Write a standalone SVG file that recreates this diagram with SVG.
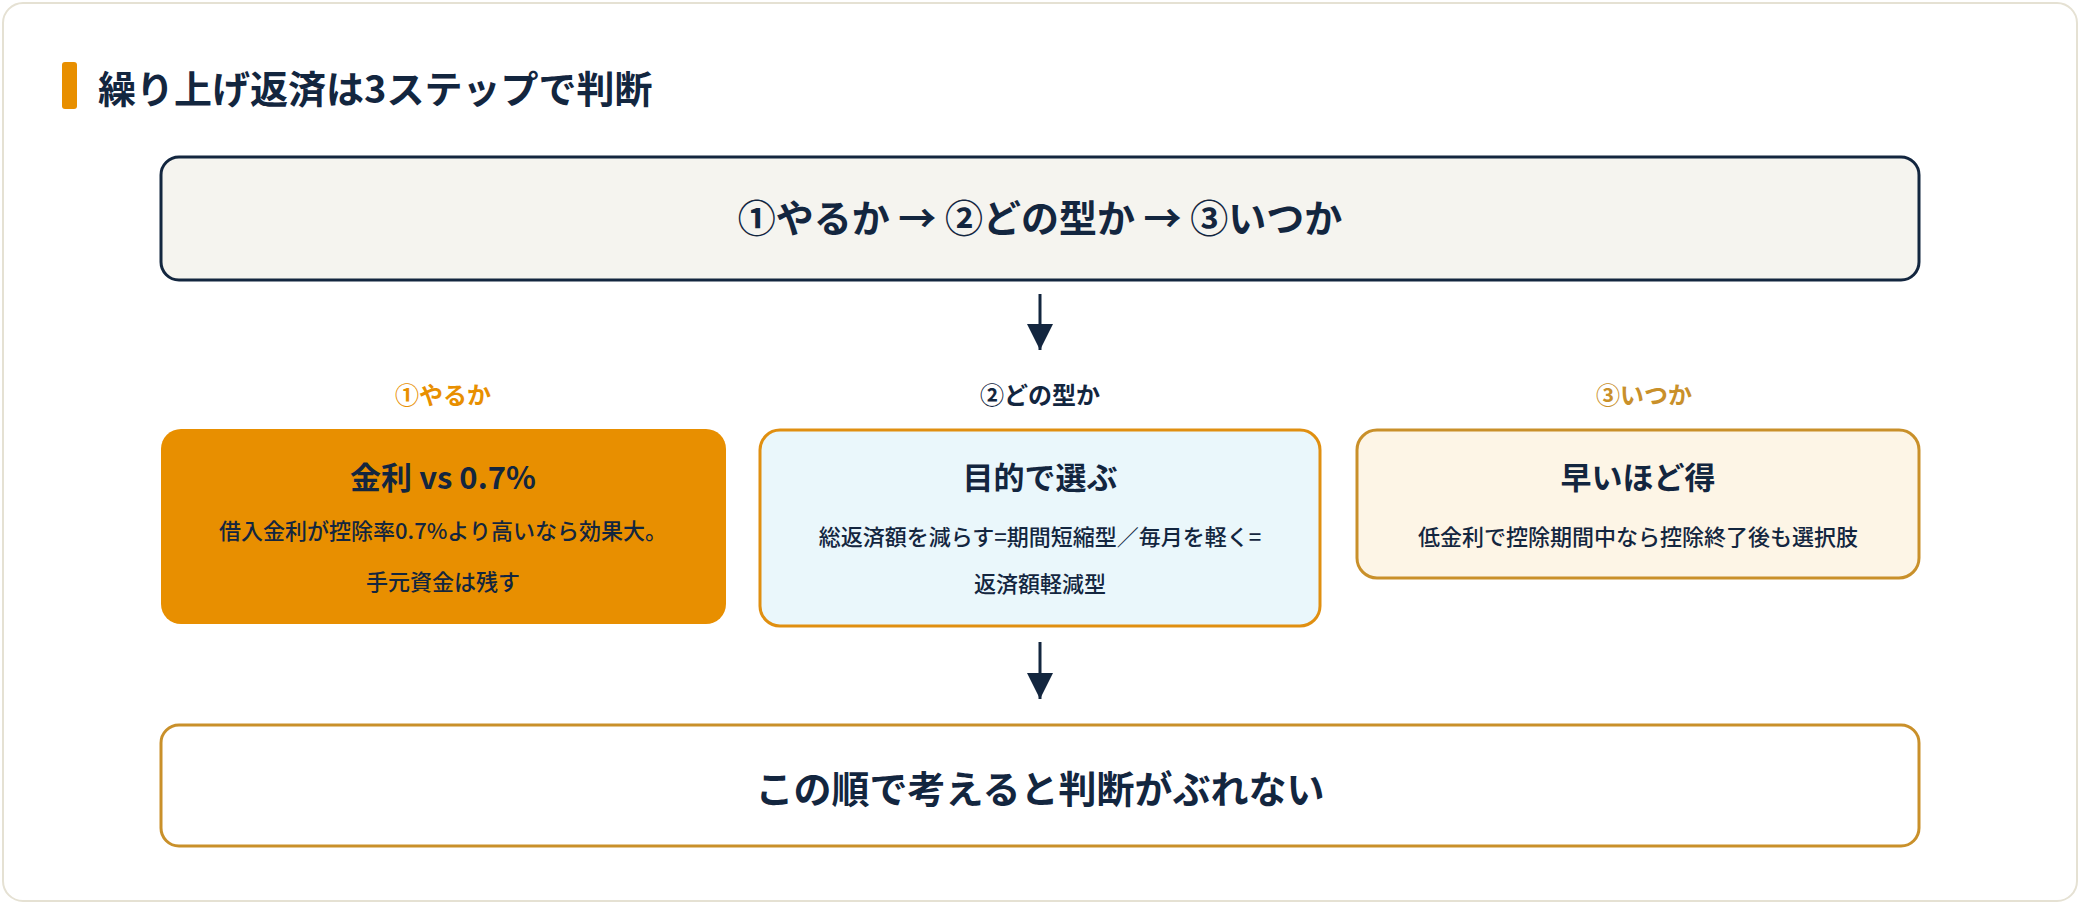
<svg xmlns="http://www.w3.org/2000/svg" width="2080" height="904" viewBox="0 0 2080 904">
<defs>
<style>
text{font-family:"Noto Sans CJK JP","Noto Sans",sans-serif;font-weight:700;fill:#13263f;text-anchor:middle}
.big{font-size:38px}
.lab{font-size:24px}
.ttl{font-size:31px}
.body{font-size:22px;font-weight:500}
.conn{stroke:#13263f;stroke-width:3;fill:none}
</style>
<marker id="ah" viewBox="0 0 10 10" refX="9" refY="5" markerWidth="10" markerHeight="10" markerUnits="userSpaceOnUse" orient="auto"><path d="M0,0L10,5L0,10z" fill="#13263f"/></marker>
<marker id="ah2" viewBox="0 0 10 10" refX="10" refY="5" markerWidth="28" markerHeight="26" markerUnits="userSpaceOnUse" orient="auto"><path d="M0,0L10,5L0,10z" fill="#13263f"/></marker>
</defs>
<rect x="3" y="3" width="2074" height="898" rx="20" fill="#ffffff" stroke="#e5e1d3" stroke-width="2"/>
<g id="title">
<rect x="62" y="62" width="15" height="47" rx="3" fill="#e88f00"/>
<text x="98" y="103" style="font-size:38px;text-anchor:start">繰り上げ返済は3ステップで判断</text>
</g>
<g id="top">
<rect x="161" y="157" width="1758" height="123" rx="18" fill="#f5f4ef" stroke="#13263f" stroke-width="3"/>
<text class="big" x="1040" y="232">①やるか → ②どの型か → ③いつか</text>
</g>
<g id="labels">
<text class="lab" x="443" y="404" style="fill:#e88f00">①やるか</text>
<text class="lab" x="1040" y="404">②どの型か</text>
<text class="lab" x="1644" y="404" style="fill:#c9902a">③いつか</text>
</g>
<g id="step1">
<rect x="161" y="429" width="565" height="195" rx="20" fill="#e88f00"/>
<text class="ttl" x="443" y="489">金利 vs 0.7%</text>
<text class="body" x="443" y="539">借入金利が控除率0.7%より高いなら効果大。</text>
<text class="body" x="443" y="590">手元資金は残す</text>
</g>
<g id="step2">
<rect x="760" y="430" width="560" height="196" rx="20" fill="#eaf7fb" stroke="#e08f10" stroke-width="3"/>
<text class="ttl" x="1040" y="489">目的で選ぶ</text>
<text class="body" x="1040" y="545">総返済額を減らす=期間短縮型／毎月を軽く=</text>
<text class="body" x="1040" y="592">返済額軽減型</text>
</g>
<g id="step3">
<rect x="1357" y="430" width="562" height="148" rx="20" fill="#fdf5e6" stroke="#c9902a" stroke-width="3"/>
<text class="ttl" x="1638" y="489">早いほど得</text>
<text class="body" x="1638" y="545">低金利で控除期間中なら控除終了後も選択肢</text>
</g>
<g id="bottom">
<rect x="161" y="725" width="1758" height="121" rx="18" fill="#ffffff" stroke="#c9902a" stroke-width="3"/>
<text class="big" x="1040" y="803">この順で考えると判断がぶれない</text>
</g>
<g id="connectors">
<line class="conn" x1="1040" y1="294" x2="1040" y2="350" marker-end="url(#ah2)"/>
<line class="conn" x1="1040" y1="642" x2="1040" y2="699" marker-end="url(#ah2)"/>
</g>
</svg>
